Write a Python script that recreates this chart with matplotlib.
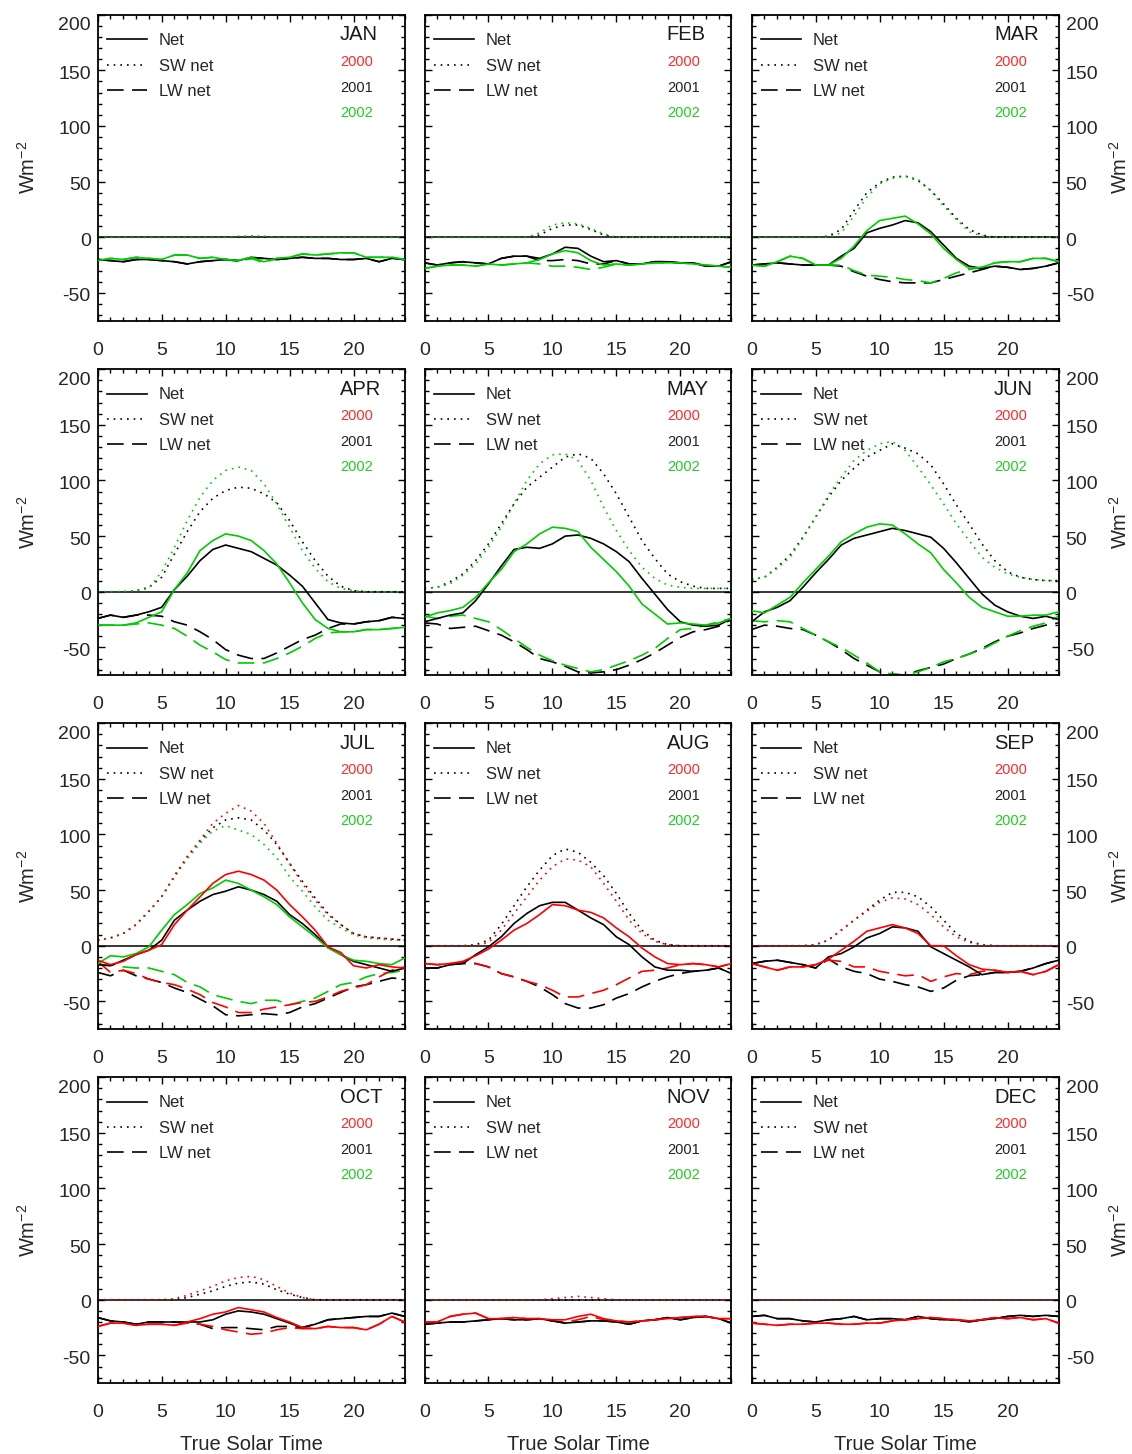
import matplotlib
matplotlib.use('Agg')
import matplotlib.pyplot as plt
from matplotlib.ticker import MultipleLocator
from matplotlib.transforms import ScaledTranslation

plt.rcParams['font.family'] = ['Liberation Sans', 'DejaVu Sans']
plt.rcParams['mathtext.fontset'] = 'custom'
plt.rcParams['mathtext.rm'] = 'Liberation Sans'
plt.rcParams['axes.unicode_minus'] = False

hours = list(range(25))
months = ['JAN', 'FEB', 'MAR', 'APR', 'MAY', 'JUN', 'JUL', 'AUG', 'SEP', 'OCT', 'NOV', 'DEC']
years = ['2000', '2001', '2002']
yticks = [-50, 0, 50, 100, 150, 200]

# ---------------- JAN ----------------
jan01_net = [-20,-21,-22,-20,-20,-21,-22,-24,-22,-21,-20,-21,-18,-19,-20,-19,-18,-19,-19,-20,-20,-19,-22,-19,-20]
jan01_sw  = [0,0,0,0,0,0,0,0,0,0,0,0,1,0,0,0,0,0,0,0,0,0,0,0,0]
jan01_lw  = [-20,-21,-22,-20,-20,-21,-22,-24,-22,-21,-20,-21,-19,-19,-20,-19,-18,-19,-19,-20,-20,-19,-22,-19,-20]
jan02_net = [-21,-19,-20,-18,-19,-20,-16,-16,-19,-18,-20,-21,-18,-22,-19,-18,-15,-16,-15,-14,-14,-18,-18,-18,-20]
jan02_sw  = [0,0,0,0,0,0,0,0,0,0,0,1,1,1,0,0,0,0,0,0,0,0,0,0,0]
jan02_lw  = [-21,-19,-20,-18,-19,-20,-16,-16,-19,-18,-20,-22,-19,-23,-19,-18,-15,-16,-15,-14,-14,-18,-18,-18,-20]
# ---------------- FEB ----------------
feb01_net = [-23,-25,-23,-22,-23,-24,-19,-17,-17,-19,-15,-9,-10,-17,-22,-21,-24,-24,-22,-22,-23,-23,-26,-26,-22]
feb01_sw  = [0,0,0,0,0,0,0,0,0,2,8,11,11,7,2,0,0,0,0,0,0,0,0,0,0]
feb01_lw  = [-23,-25,-23,-22,-23,-24,-19,-17,-17,-21,-21,-20,-21,-24,-24,-21,-24,-24,-22,-22,-23,-23,-26,-26,-22]
feb02_net = [-28,-26,-25,-25,-26,-24,-25,-24,-23,-20,-15,-12,-14,-21,-25,-24,-25,-24,-23,-23,-23,-24,-25,-26,-27]
feb02_sw  = [0,0,0,0,0,0,0,0,0,4,11,13,12,8,3,0,0,0,0,0,0,0,0,0,0]
feb02_lw  = [-28,-26,-25,-25,-26,-24,-25,-24,-23,-24,-26,-26,-27,-29,-27,-24,-25,-24,-23,-23,-23,-24,-25,-26,-27]
# ---------------- MAR ----------------
mar01_net = [-25,-24,-23,-24,-25,-25,-25,-17,-10,4,8,11,15,13,5,-7,-19,-26,-28,-26,-27,-29,-28,-26,-23]
mar01_sw  = [0,0,0,0,0,0,1,7,24,40,49,54,55,51,42,30,17,7,2,0,0,0,0,0,0]
mar01_lw  = [-25,-24,-23,-24,-25,-25,-25,-26,-31,-35,-38,-40,-41,-41,-41,-38,-35,-32,-29,-26,-27,-29,-28,-26,-23]
mar02_net = [-25,-26,-22,-17,-19,-25,-25,-19,-8,6,15,17,19,12,3,-10,-20,-28,-27,-23,-22,-22,-19,-19,-22]
mar02_sw  = [0,0,0,0,0,0,0,4,19,36,48,53,55,52,42,28,16,5,1,0,0,0,0,0,0]
mar02_lw  = [-25,-26,-22,-17,-19,-25,-25,-25,-30,-34,-35,-36,-38,-39,-41,-37,-32,-29,-27,-23,-22,-22,-19,-19,-22]
# ---------------- APR ----------------
apr01_net = [-24,-21,-23,-21,-18,-14,2,14,28,38,42,39,36,30,24,15,5,-10,-25,-28,-29,-27,-26,-23,-24]
apr01_sw  = [0,0,0,1,4,13,34,54,72,84,91,94,93,88,80,64,45,28,14,5,1,0,0,0,0]
apr01_lw  = [-24,-21,-23,-21,-21,-22,-27,-30,-36,-43,-52,-57,-60,-60,-55,-49,-43,-39,-33,-29,-29,-27,-26,-23,-24]
apr02_net = [-30,-30,-30,-28,-23,-18,2,17,37,46,52,50,46,37,25,8,-10,-25,-33,-36,-36,-34,-34,-33,-32]
apr02_sw  = [0,0,0,1,3,18,40,64,85,100,109,112,109,97,79,58,37,21,9,3,1,0,0,0,0]
apr02_lw  = [-30,-30,-30,-29,-28,-30,-33,-40,-48,-54,-61,-64,-64,-64,-60,-55,-49,-42,-37,-36,-36,-34,-34,-33,-32]
# ---------------- MAY ----------------
may01_net = [-27,-24,-21,-19,-8,7,23,38,40,39,43,50,51,48,43,36,27,12,-2,-16,-27,-30,-31,-30,-24]
may01_sw  = [3,4,9,16,28,43,61,79,94,103,112,121,124,120,106,88,67,46,30,16,9,5,3,3,3]
may01_lw  = [-28,-29,-33,-32,-31,-35,-39,-45,-52,-60,-63,-67,-72,-73,-72,-70,-66,-61,-55,-48,-41,-36,-34,-31,-25]
may02_net = [-23,-19,-17,-14,-5,8,20,36,43,52,58,57,54,40,29,18,5,-11,-20,-29,-28,-29,-30,-28,-24]
may02_sw  = [3,4,7,15,25,40,58,79,100,115,123,124,118,100,76,55,37,22,12,6,4,3,3,3,3]
may02_lw  = [-22,-24,-22,-21,-24,-27,-34,-42,-50,-57,-62,-66,-69,-72,-70,-66,-62,-57,-51,-42,-34,-33,-30,-27,-24]
# ---------------- JUN ----------------
jun01_net = [-27,-18,-14,-8,4,17,29,42,48,51,54,57,55,52,49,39,26,12,-2,-12,-18,-22,-24,-22,-25]
jun01_sw  = [11,13,22,33,49,67,85,100,111,121,127,133,129,124,114,97,78,61,43,28,18,13,11,10,10]
jun01_lw  = [-34,-30,-31,-33,-34,-39,-45,-52,-60,-66,-72,-74,-75,-71,-68,-65,-60,-56,-51,-45,-40,-37,-33,-30,-28]
jun02_net = [-17,-19,-12,-5,8,20,32,45,52,58,61,60,52,43,35,20,8,-5,-14,-18,-22,-22,-21,-21,-18]
jun02_sw  = [11,13,21,31,48,67,87,103,118,127,133,135,127,112,96,79,61,46,31,22,16,13,11,10,10]
jun02_lw  = [-26,-27,-26,-27,-33,-39,-45,-50,-57,-64,-72,-74,-75,-72,-68,-63,-60,-56,-52,-46,-40,-35,-31,-28,-22]
# ---------------- JUL ----------------
jul00_net = [-13,-17,-14,-8,-4,1,19,32,44,56,64,67,64,59,50,37,26,14,-1,-6,-18,-20,-17,-19,-20]
jul00_sw  = [5,7,11,19,31,44,62,80,95,110,119,126,121,110,92,74,56,41,28,19,11,8,7,6,5]
jul00_lw  = [-14,-24,-22,-25,-30,-33,-35,-39,-44,-51,-55,-60,-60,-57,-55,-53,-51,-50,-46,-41,-38,-35,-28,-22,-19]
jul01_net = [-17,-18,-13,-8,-4,5,23,32,40,46,49,53,50,46,40,28,20,10,-1,-8,-14,-17,-20,-23,-20]
jul01_sw  = [5,7,11,19,31,44,63,80,94,106,113,115,113,104,91,74,58,43,29,19,11,8,7,6,5]
jul01_lw  = [-24,-27,-22,-27,-30,-33,-38,-42,-48,-54,-62,-63,-62,-61,-62,-60,-55,-52,-47,-42,-37,-35,-32,-29,-30]
jul02_net = [-16,-9,-10,-7,-1,14,28,37,47,52,59,56,50,44,37,26,17,8,-2,-8,-13,-14,-16,-17,-11]
jul02_sw  = [5,7,11,19,31,44,62,78,92,103,108,104,100,91,79,62,49,35,23,16,10,7,6,5,5]
jul02_lw  = [-17,-17,-19,-20,-20,-23,-26,-33,-37,-44,-47,-50,-52,-49,-49,-53,-50,-47,-41,-35,-33,-28,-25,-24,-22]
# ---------------- AUG ----------------
aug00_net = [-16,-17,-16,-14,-9,-3,5,14,20,28,37,36,32,30,25,16,8,-2,-10,-16,-17,-16,-17,-19,-16]
aug00_sw  = [0,0,0,0,0,3,14,29,44,59,71,78,77,71,56,40,23,11,4,1,0,0,0,0,0]
aug00_lw  = [-16,-17,-16,-15,-16,-19,-25,-28,-32,-35,-40,-46,-46,-43,-40,-35,-29,-23,-22,-20,-17,-16,-17,-19,-16]
aug01_net = [-20,-20,-17,-16,-8,-1,8,20,29,36,39,39,32,25,19,8,1,-10,-19,-22,-22,-23,-22,-20,-25]
aug01_sw  = [0,0,0,0,1,5,19,36,53,68,81,87,84,75,63,47,29,14,5,1,0,0,0,0,0]
aug01_lw  = [-20,-20,-17,-16,-16,-19,-25,-28,-32,-37,-44,-52,-56,-56,-53,-47,-43,-37,-32,-28,-25,-23,-22,-20,-25]
# ---------------- SEP ----------------
sep00_net = [-16,-19,-22,-19,-19,-17,-12,-4,4,13,16,19,16,11,0,0,-9,-17,-21,-22,-24,-23,-26,-23,-17]
sep00_sw  = [0,0,0,0,0,1,5,14,23,31,39,43,42,37,28,17,8,3,1,0,0,0,0,0,0]
sep00_lw  = [-16,-19,-22,-19,-19,-17,-13,-14,-19,-19,-23,-25,-27,-26,-32,-28,-25,-26,-23,-22,-24,-23,-26,-23,-17]
sep01_net = [-16,-14,-13,-15,-17,-20,-10,-7,-1,7,11,17,16,13,-1,-7,-13,-19,-26,-24,-24,-23,-20,-16,-13]
sep01_sw  = [0,0,0,0,0,1,5,14,23,32,41,48,48,44,35,23,11,4,1,0,0,0,0,0,0]
sep01_lw  = [-16,-14,-13,-15,-17,-20,-12,-19,-23,-25,-30,-32,-35,-37,-41,-38,-31,-27,-26,-24,-24,-23,-20,-16,-13]
# ---------------- OCT ----------------
oct00_net = [-24,-21,-21,-23,-22,-22,-23,-20,-17,-13,-11,-7,-9,-11,-16,-20,-25,-26,-24,-25,-25,-27,-22,-15,-20]
oct00_sw  = [0,0,0,0,0,0,1,4,8,12,17,20,21,18,12,6,2,0,0,0,0,0,0,0,0]
oct00_lw  = [-24,-21,-21,-23,-22,-22,-23,-21,-22,-24,-27,-29,-31,-30,-27,-25,-26,-26,-24,-25,-25,-27,-22,-15,-20]
oct01_net = [-16,-19,-20,-22,-20,-20,-20,-20,-20,-18,-13,-10,-11,-13,-17,-21,-25,-22,-18,-17,-16,-15,-15,-12,-15]
oct01_sw  = [0,0,0,0,0,0,0,2,5,8,12,15,16,14,9,5,2,0,0,0,0,0,0,0,0]
oct01_lw  = [-16,-19,-20,-22,-20,-20,-20,-21,-22,-26,-25,-25,-26,-27,-24,-24,-25,-22,-18,-17,-16,-15,-15,-12,-15]
# ---------------- NOV ----------------
nov00_net = [-20,-20,-15,-13,-12,-17,-17,-16,-17,-17,-18,-18,-15,-13,-17,-19,-20,-19,-18,-17,-16,-15,-15,-17,-17]
nov00_sw  = [0,0,0,0,0,0,0,0,0,0,1,2,3,2,1,0,0,0,0,0,0,0,0,0,0]
nov00_lw  = [-20,-20,-15,-13,-12,-17,-17,-16,-17,-17,-19,-20,-18,-15,-18,-19,-20,-19,-18,-17,-16,-15,-15,-17,-17]
nov01_net = [-22,-21,-20,-20,-19,-18,-17,-18,-18,-17,-19,-21,-20,-19,-19,-20,-22,-19,-18,-16,-18,-16,-15,-17,-21]
nov01_sw  = [0,0,0,0,0,0,0,0,0,0,0,0,0,0,0,0,0,0,0,0,0,0,0,0,0]
nov01_lw  = [-22,-21,-20,-20,-19,-18,-17,-18,-18,-17,-19,-21,-20,-19,-19,-20,-22,-19,-18,-16,-18,-16,-15,-17,-21]
# ---------------- DEC ----------------
dec00_net = [-21,-22,-23,-22,-22,-21,-21,-22,-22,-21,-21,-19,-18,-17,-16,-17,-18,-19,-18,-16,-17,-16,-18,-17,-21]
dec00_sw  = [0,0,0,0,0,0,0,0,0,0,0,0,0,0,0,0,0,0,0,0,0,0,0,0,0]
dec00_lw  = [-21,-22,-23,-22,-22,-21,-21,-22,-22,-21,-21,-19,-18,-17,-16,-17,-18,-19,-18,-16,-17,-16,-18,-17,-21]
dec01_net = [-15,-14,-17,-17,-19,-20,-18,-17,-15,-18,-17,-17,-18,-15,-17,-18,-18,-20,-18,-17,-15,-14,-15,-14,-15]
dec01_sw  = [0,0,0,0,0,0,0,0,0,0,0,0,0,0,0,0,0,0,0,0,0,0,0,0,0]
dec01_lw  = [-15,-14,-17,-17,-19,-20,-18,-17,-15,-18,-17,-17,-18,-15,-17,-18,-18,-20,-18,-17,-15,-14,-15,-14,-15]

# table of available series per month (year -> (net, sw, lw))
panel_data = [
    {'2001': (jan01_net, jan01_sw, jan01_lw), '2002': (jan02_net, jan02_sw, jan02_lw)},
    {'2001': (feb01_net, feb01_sw, feb01_lw), '2002': (feb02_net, feb02_sw, feb02_lw)},
    {'2001': (mar01_net, mar01_sw, mar01_lw), '2002': (mar02_net, mar02_sw, mar02_lw)},
    {'2001': (apr01_net, apr01_sw, apr01_lw), '2002': (apr02_net, apr02_sw, apr02_lw)},
    {'2001': (may01_net, may01_sw, may01_lw), '2002': (may02_net, may02_sw, may02_lw)},
    {'2001': (jun01_net, jun01_sw, jun01_lw), '2002': (jun02_net, jun02_sw, jun02_lw)},
    {'2001': (jul01_net, jul01_sw, jul01_lw), '2002': (jul02_net, jul02_sw, jul02_lw),
     '2000': (jul00_net, jul00_sw, jul00_lw)},
    {'2001': (aug01_net, aug01_sw, aug01_lw), '2000': (aug00_net, aug00_sw, aug00_lw)},
    {'2001': (sep01_net, sep01_sw, sep01_lw), '2000': (sep00_net, sep00_sw, sep00_lw)},
    {'2001': (oct01_net, oct01_sw, oct01_lw), '2000': (oct00_net, oct00_sw, oct00_lw)},
    {'2001': (nov01_net, nov01_sw, nov01_lw), '2000': (nov00_net, nov00_sw, nov00_lw)},
    {'2001': (dec01_net, dec01_sw, dec01_lw), '2000': (dec00_net, dec00_sw, dec00_lw)},
]

line_colors = {'2000': '#ff0000', '2001': '#000000', '2002': '#00cc00'}
text_colors = {'2000': '#ff2a2a', '2001': '#222222', '2002': '#22cc22'}
draw_order = ['2001', '2002', '2000']
dotted = (0, (1, 3))
dashed = (0, (10, 5))
lw_data = 1.2
txt_col = '#262626'

fig = plt.figure(figsize=(11.32, 14.54), dpi=100)
W, H = 1132.0, 1454.0
col_left = [97.7, 424.5, 751.7]
row_bottom = [320.7, 675.2, 1029.2, 1383.2]
ax_w, ax_h = 307.0, 306.0

for i, month in enumerate(months):
    r, c = divmod(i, 3)
    ax = fig.add_axes([col_left[c] / W, 1 - row_bottom[r] / H, ax_w / W, ax_h / H])
    ax.set_xlim(0, 24)
    ax.set_ylim(-75, 200)
    ax.axhline(0, color='k', lw=1.1, zorder=1)
    d = panel_data[i]
    for yr in draw_order:
        if yr not in d:
            continue
        net, sw, lw = d[yr]
        col = line_colors[yr]
        ax.plot(hours, sw, color=col, lw=lw_data, linestyle=dotted, zorder=2)
        ax.plot(hours, lw, color=col, lw=lw_data, linestyle=dashed, zorder=2)
        ax.plot(hours, net, color=col, lw=lw_data, zorder=3)

    ax.xaxis.set_major_locator(MultipleLocator(5))
    ax.xaxis.set_minor_locator(MultipleLocator(1))
    ax.set_yticks(yticks)
    ax.yaxis.set_minor_locator(MultipleLocator(10))
    ax.tick_params(which='both', direction='in', top=True, right=True, width=1.0, color='k')
    ax.tick_params(which='major', length=5)
    ax.tick_params(which='minor', length=2.8)
    ax.tick_params(axis='x', which='major', pad=15, labelsize=14, labelcolor=txt_col)
    ax.tick_params(axis='y', which='major', pad=5, labelsize=14, labelcolor=txt_col,
                   labelleft=(c == 0), labelright=(c == 2))
    for s in ax.spines.values():
        s.set_linewidth(1.3)
    # small downward shift of y tick labels (top one sits lower, inside frame)
    for tv, tk in zip(yticks, ax.yaxis.get_major_ticks()):
        dy = -9 if tv == 200 else -2
        off = ScaledTranslation(0, dy / 100.0, fig.dpi_scale_trans)
        tk.label1.set_transform(tk.label1.get_transform() + off)
        tk.label2.set_transform(tk.label2.get_transform() + off)

    # legend (line styles)
    leg_y = [0.920, 0.836, 0.754]
    leg_txt = ['Net', 'SW net', 'LW net']
    leg_ls = ['-', dotted, dashed]
    for yy, tt, ls in zip(leg_y, leg_txt, leg_ls):
        ax.plot([0.030, 0.161], [yy, yy], transform=ax.transAxes, color='k', lw=lw_data, linestyle=ls)
        ax.text(0.20, yy - 0.019, tt, transform=ax.transAxes, fontsize=12, color=txt_col, va='baseline', ha='left')

    # month and year labels
    ax.text(0.789, 0.917, month, transform=ax.transAxes, fontsize=14.5, color='#1a1a1a', va='baseline', ha='left')
    for yr, yb in zip(years, [0.833, 0.748, 0.667]):
        ax.text(0.791, yb, yr, transform=ax.transAxes, fontsize=10.5, color=text_colors[yr], va='baseline', ha='left')

    if c == 0:
        ax.text(-0.228, 0.5, r'Wm$^{\mathregular{-2}}$', transform=ax.transAxes, rotation=90,
                fontsize=14.5, color=txt_col, va='center', ha='center')
    if c == 2:
        ax.text(1.198, 0.5, r'Wm$^{\mathregular{-2}}$', transform=ax.transAxes, rotation=90,
                fontsize=14.5, color=txt_col, va='center', ha='center')
    if r == 3:
        ax.set_xlabel('True Solar Time', fontsize=14.5, color=txt_col, labelpad=10)

fig.savefig('out.png', dpi=100)
